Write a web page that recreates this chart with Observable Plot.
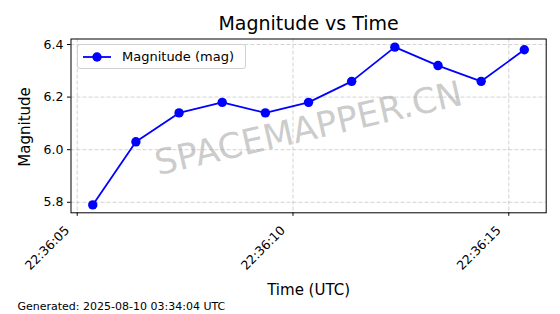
<!DOCTYPE html>
<html>
<head>
<meta charset="utf-8">
<script src="https://cdn.jsdelivr.net/npm/d3@7"></script>
<script src="https://cdn.jsdelivr.net/npm/@observablehq/plot@0.6"></script>
<style>
  body { margin: 0; background: #fff; }
  #wrap { position: relative; width: 560px; height: 314px; font-family: "DejaVu Sans", sans-serif; }
  #legend { position: absolute; left: 77px; top: 44px; width: 169px; height: 25px; box-sizing: border-box;
    border: 1px solid #d0d0d0; border-radius: 3px; background: rgba(255,255,255,0.8);
    display: flex; align-items: center; font-size: 13px; color: #000; }
  #legend svg { margin-left: 4px; margin-right: 10px; }
</style>
</head>
<body>
<div id="wrap"></div>
<script>
const times = ["22:36:05.36","22:36:06.36","22:36:07.36","22:36:08.36","22:36:09.36","22:36:10.36",
               "22:36:11.36","22:36:12.36","22:36:13.36","22:36:14.36","22:36:15.36"];
const magnitudes = [5.79, 6.03, 6.14, 6.18, 6.14, 6.18, 6.26, 6.39, 6.32, 6.26, 6.38];
const yTicks = [5.8, 6.0, 6.2, 6.4];
const xTickTimes = ["22:36:05","22:36:10","22:36:15"];
const datePart = "2025-08-09T";
const xDomainTimes = ["22:36:04.856","22:36:15.867"];
const yDomain = [5.76, 6.421];
const titleText = "Magnitude vs Time";
const xLabel = "Time (UTC)";
const yLabel = "Magnitude";
const seriesName = "Magnitude (mag)";
const footer = "Generated: 2025-08-10 03:34:04 UTC";
const watermark = "SPACEMAPPER.CN";

const toDate = s => new Date(datePart + s + "Z");
const data = times.map((t, i) => ({t: toDate(t), m: magnitudes[i]}));
const fmt = d3.utcFormat("%H:%M:%S");
const xTicks = xTickTimes.map(toDate);

const chart = Plot.plot({
  width: 560, height: 314,
  marginLeft: 70.5, marginRight: 14.3, marginTop: 38.5, marginBottom: 101.7,
  style: {fontFamily: "DejaVu Sans, sans-serif", fontSize: "12.5px", color: "#000", background: "#fff"},
  x: {type: "utc", domain: xDomainTimes.map(toDate)},
  y: {domain: yDomain},
  marks: [
    Plot.gridX(xTicks, {stroke: "#b0b0b0", strokeOpacity: 0.7, strokeDasharray: "4,2", strokeWidth: 0.8}),
    Plot.gridY(yTicks, {stroke: "#b0b0b0", strokeOpacity: 0.7, strokeDasharray: "4,2", strokeWidth: 0.8}),
    Plot.text([watermark], {frameAnchor: "middle", text: d => d, rotate: -13, fontSize: 35, fill: "#a0a0a0", fillOpacity: 0.55, dy: 3}),
    Plot.line(data, {x: "t", y: "m", stroke: "#0000ff", strokeWidth: 1.8}),
    Plot.dot(data, {x: "t", y: "m", r: 4.7, fill: "#0000ff", stroke: "none"}),
    Plot.frame({stroke: "#000", strokeWidth: 1}),
    Plot.axisY(yTicks, {tickSize: 3.5, tickPadding: 4, tickFormat: d => d.toFixed(1), fontSize: 12.5, label: null}),
    Plot.axisX(xTicks, {tickSize: 3.5, text: null, label: null}),
    Plot.axisX(xTicks, {tickSize: 0, tickFormat: fmt, tickRotate: -45, fontSize: 12.5, label: null, tickPadding: 2, dx: -10, dy: 13.5}),
    Plot.text([titleText], {frameAnchor: "top", text: d => d, fontSize: 19, dy: -23, fill: "#000"}),
    Plot.text([xLabel], {frameAnchor: "bottom", text: d => d, fontSize: 15, dy: 82, fill: "#000"}),
    Plot.text([yLabel], {frameAnchor: "left", text: d => d, textAnchor: "middle", fontSize: 15, rotate: -90, dx: -46, dy: 1, fill: "#000"}),
    Plot.text([footer], {frameAnchor: "bottom-left", text: d => d, fontSize: 11, textAnchor: "start", dx: -53.5, dy: 97, fill: "#000"})
  ]
});

const wrap = document.getElementById("wrap");
wrap.appendChild(chart);
const legend = document.createElement("div");
legend.id = "legend";
legend.innerHTML = `<svg width="30" height="12"><line x1="1" y1="6" x2="29" y2="6" stroke="#0000ff" stroke-width="1.8"/><circle cx="15" cy="6" r="4.7" fill="#0000ff"/></svg><span></span>`;
legend.querySelector("span").textContent = seriesName;
wrap.appendChild(legend);
</script>
</body>
</html>
